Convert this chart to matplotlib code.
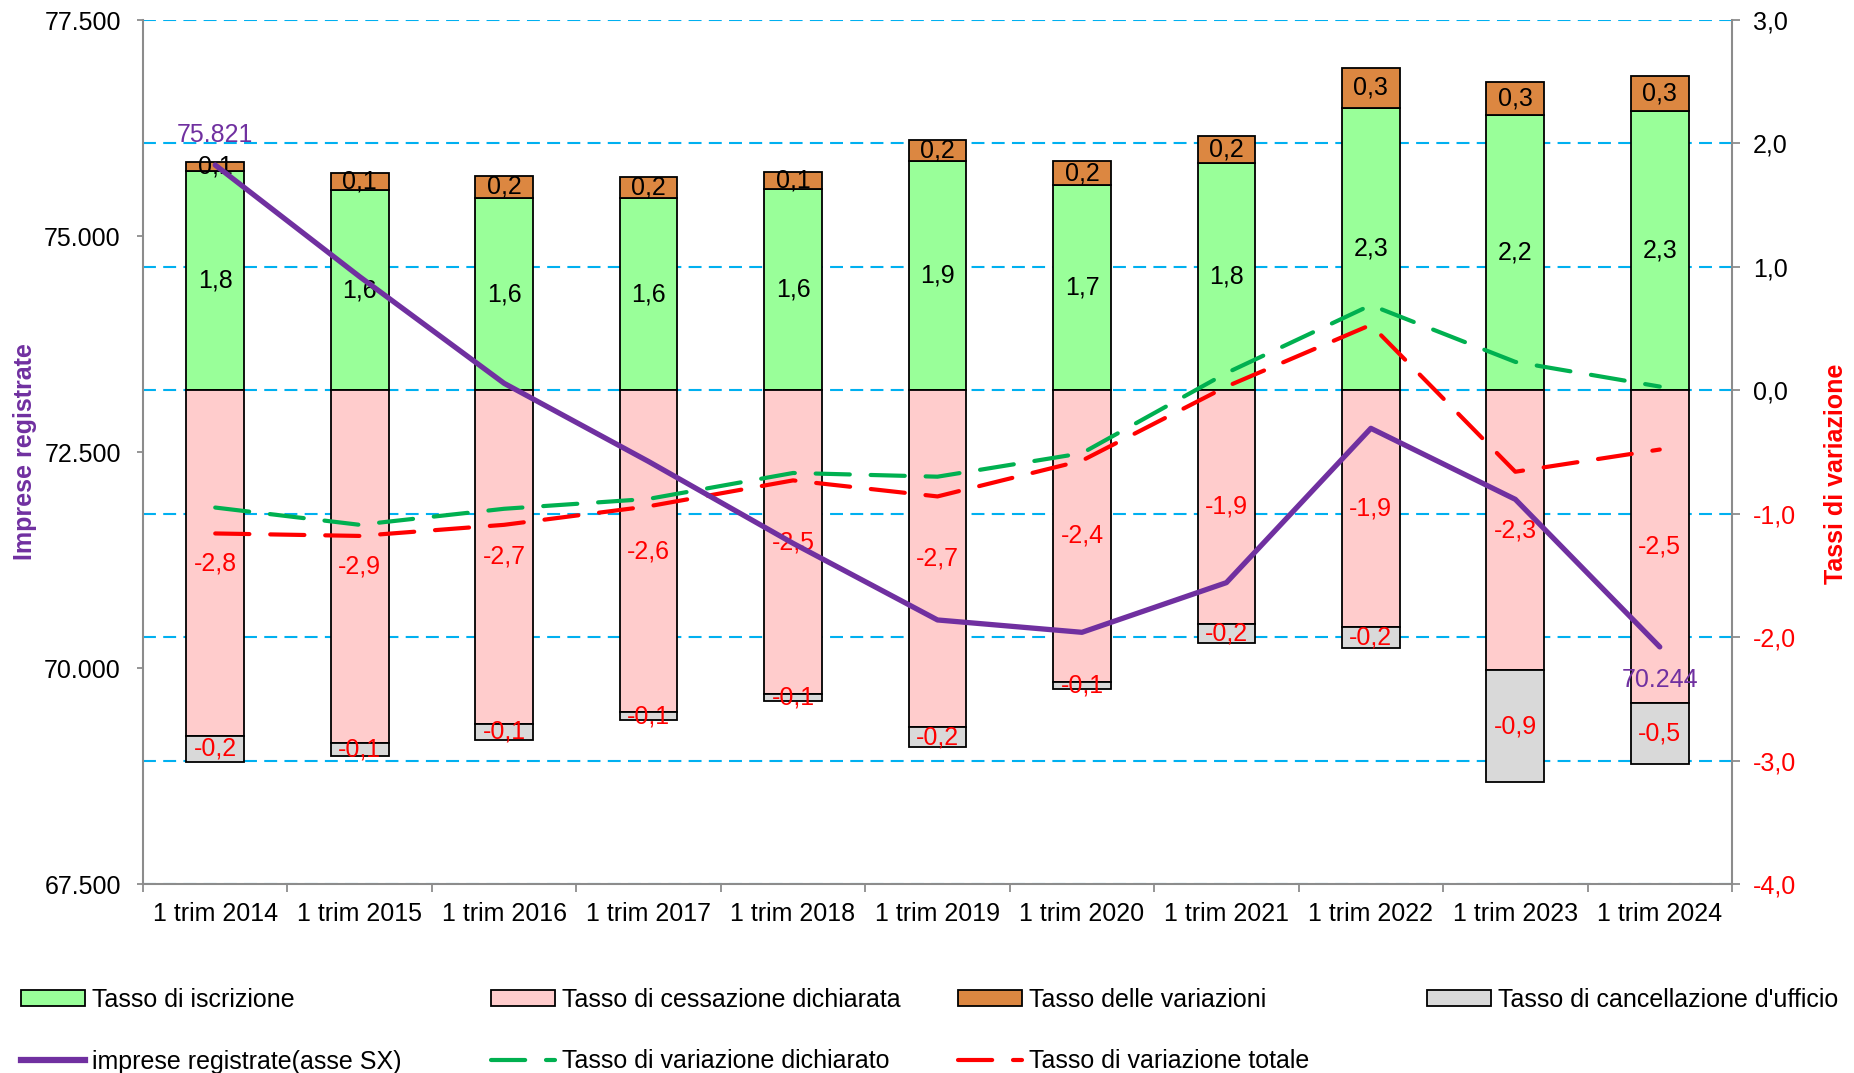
import matplotlib
matplotlib.use('Agg')
import matplotlib.pyplot as plt
from matplotlib.patches import Patch
from matplotlib.lines import Line2D
from matplotlib.ticker import FuncFormatter
import numpy as np

plt.rcParams['font.family'] = ['Liberation Sans', 'DejaVu Sans']

# ---------------- data ----------------
categories = ["1 trim 2014", "1 trim 2015", "1 trim 2016", "1 trim 2017", "1 trim 2018",
              "1 trim 2019", "1 trim 2020", "1 trim 2021", "1 trim 2022", "1 trim 2023",
              "1 trim 2024"]
iscrizione = [1.78, 1.62, 1.56, 1.56, 1.63, 1.86, 1.66, 1.84, 2.29, 2.23, 2.26]
variazioni = [0.07, 0.14, 0.18, 0.17, 0.14, 0.17, 0.20, 0.22, 0.32, 0.27, 0.29]
cessazione = [-2.80, -2.86, -2.70, -2.61, -2.46, -2.73, -2.36, -1.89, -1.92, -2.27, -2.53]
cancellazione = [-0.21, -0.10, -0.13, -0.06, -0.06, -0.16, -0.06, -0.16, -0.17, -0.90, -0.50]
var_dichiarato = [-0.95, -1.09, -0.96, -0.88, -0.67, -0.70, -0.51, 0.14, 0.69, 0.23, 0.03]
var_totale = [-1.16, -1.18, -1.09, -0.94, -0.73, -0.86, -0.57, 0.03, 0.53, -0.66, -0.48]
imprese = [75821, 74529, 73295, 72390, 71443, 70556, 70413, 70988, 72774, 71952, 70244]

left_ticks = [67500, 70000, 72500, 75000, 77500]
right_ticks = [-4, -3, -2, -1, 0, 1, 2, 3]

# ---------------- style ----------------
C_GREEN = '#99FF99'
C_PINK = '#FFCCCC'
C_ORANGE = '#DC8741'
C_GREY = '#D9D9D9'
C_PURPLE = '#7030A0'
C_LGREEN = '#00B050'
C_RED = '#FF0000'
C_GRID = '#00B0F0'
C_SPINE = '#8C8C8C'
FS = 18
DASH = (8.2, 5.0)

W, H = 1854, 1073
fig = plt.figure(figsize=(W / 100, H / 100), dpi=100)
L, R, T, B = 143, 1732, 20, 884
ax = fig.add_axes([L / W, 1 - B / H, (R - L) / W, (B - T) / H])
ax2 = ax.twinx()

# rate axis on the right, imprese axis on the left
ax.yaxis.tick_right()
ax.yaxis.set_label_position('right')
ax2.yaxis.tick_left()
ax2.yaxis.set_label_position('left')

x = np.arange(len(categories))
bw = 0.40
ekw = dict(edgecolor='black', linewidth=1.3)

b1 = ax.bar(x, iscrizione, bw, color=C_GREEN, zorder=2, **ekw)
b2 = ax.bar(x, variazioni, bw, bottom=iscrizione, color=C_ORANGE, zorder=2, **ekw)
b3 = ax.bar(x, cessazione, bw, color=C_PINK, zorder=2, **ekw)
b4 = ax.bar(x, cancellazione, bw, bottom=cessazione, color=C_GREY, zorder=2, **ekw)

fmt = lambda v: f"{v:.1f}".replace('.', ',')
ax.bar_label(b1, labels=[fmt(v) for v in iscrizione], label_type='center', fontsize=FS, color='black')
ax.bar_label(b2, labels=[fmt(v) for v in variazioni], label_type='center', fontsize=FS, color='black')
ax.bar_label(b3, labels=[fmt(v) for v in cessazione], label_type='center', fontsize=FS, color=C_RED)
ax.bar_label(b4, labels=[fmt(v) for v in cancellazione], label_type='center', fontsize=FS, color=C_RED)

ln_d, = ax.plot(x, var_dichiarato, color=C_LGREEN, lw=3.0, dashes=DASH,
                dash_capstyle='round', zorder=4)
ln_t, = ax.plot(x, var_totale, color=C_RED, lw=3.0, dashes=DASH,
                dash_capstyle='round', zorder=4)
ln_i, = ax2.plot(x, imprese, color=C_PURPLE, lw=3.8, solid_capstyle='round', zorder=5)

thou = lambda v: f"{int(round(v)):,}".replace(',', '.')
ax2.annotate(thou(imprese[0]), (x[0], imprese[0]), xytext=(0, 22), textcoords='offset points',
             ha='center', va='center', fontsize=FS, color=C_PURPLE)
ax2.annotate(thou(imprese[-1]), (x[-1], imprese[-1]), xytext=(0, -24), textcoords='offset points',
             ha='center', va='center', fontsize=FS, color=C_PURPLE)

# axes limits and ticks
ax.set_xlim(-0.5, len(categories) - 0.5)
ax.set_ylim(-4, 3)
ax2.set_ylim(67500, 77500)

ax.set_yticks(right_ticks)
ax.set_yticklabels([fmt(v) for v in right_ticks])
for lab, v in zip(ax.get_yticklabels(), right_ticks):
    lab.set_color(C_RED if v < 0 else 'black')
ax.tick_params(axis='y', which='major', labelsize=FS, length=6, color=C_SPINE, width=1.3, pad=9)

ax2.set_yticks(left_ticks)
ax2.yaxis.set_major_formatter(FuncFormatter(lambda v, p: thou(v)))
ax2.tick_params(axis='y', which='major', labelsize=FS, length=4, color=C_SPINE, width=1.3,
                pad=12, labelcolor='black')

ax.set_xticks(x)
ax.set_xticklabels(categories)
ax.set_xticks(np.arange(-0.5, len(categories), 1.0), minor=True)
ax.tick_params(axis='x', which='major', length=0, labelsize=FS, pad=13)
ax.tick_params(axis='x', which='minor', length=6, color=C_SPINE, width=1.3)

# grid
ax.set_axisbelow(True)
ax.yaxis.grid(True, color=C_GRID, lw=1.5, dashes=(6.2, 3.5))
ax.xaxis.grid(False)

# spines
for s in ['left', 'right', 'bottom']:
    ax.spines[s].set_color(C_SPINE)
    ax.spines[s].set_linewidth(1.5)
ax.spines['top'].set_visible(False)
for s in ax2.spines.values():
    s.set_visible(False)

# axis labels
ax2.set_ylabel("Imprese registrate", color=C_PURPLE, fontsize=FS, fontweight='bold')
ax2.yaxis.set_label_coords((37 - L) / (R - L), 0.5)
ax.set_ylabel("Tassi di variazione", color=C_RED, fontsize=FS, fontweight='bold')
ax.yaxis.set_label_coords((1824 - L) / (R - L), 0.475)

# legend (4 columns, placed manually)
h_iscr = Patch(facecolor=C_GREEN, **ekw)
h_cess = Patch(facecolor=C_PINK, **ekw)
h_var = Patch(facecolor=C_ORANGE, **ekw)
h_canc = Patch(facecolor=C_GREY, **ekw)
h_imp = Line2D([], [], color=C_PURPLE, lw=4.5)
h_dic = Line2D([], [], color=C_LGREEN, lw=3.0, dashes=DASH, dash_capstyle='round')
h_tot = Line2D([], [], color=C_RED, lw=3.0, dashes=DASH, dash_capstyle='round')

columns = [
    ([h_iscr, h_imp], ["Tasso di iscrizione", "imprese registrate(asse SX)"], 21),
    ([h_cess, h_dic], ["Tasso di cessazione dichiarata", "Tasso di variazione dichiarato"], 491),
    ([h_var, h_tot], ["Tasso delle variazioni", "Tasso di variazione totale"], 958),
    ([h_canc], ["Tasso di cancellazione d'ufficio"], 1427),
]
for hs, ls, xpx in columns:
    fig.legend(hs, ls, loc='upper left', bbox_to_anchor=(xpx / W, 1 - 988 / H),
               frameon=False, fontsize=FS, handlelength=2.56, handletextpad=0.28,
               borderpad=0, borderaxespad=0, labelspacing=1.5, handleheight=0.6)

fig.savefig('out.png', dpi=100)
